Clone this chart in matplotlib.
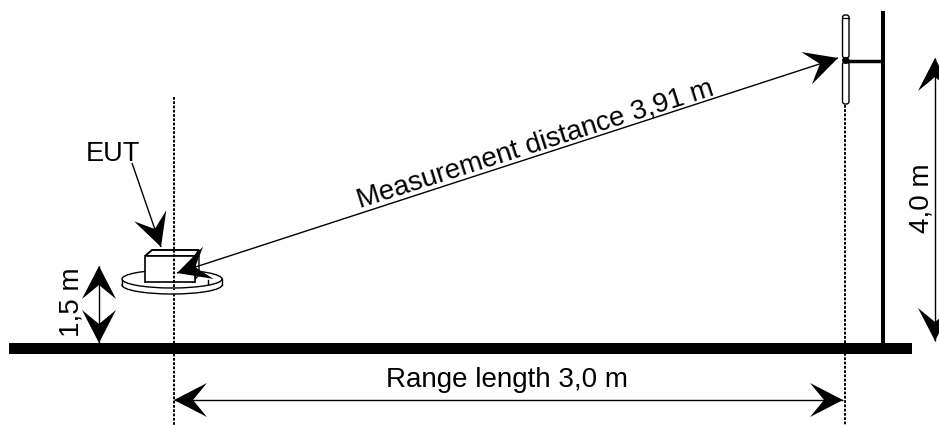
import matplotlib.pyplot as plt
import numpy as np
from matplotlib.patches import Ellipse, Polygon, Rectangle, FancyBboxPatch

plt.rcParams['font.family'] = ['Liberation Sans', 'DejaVu Sans']

W, H = 939, 425

# all positions in reference pixels
ground_x = [9, 912]
ground_y = 348.5
mast_x = 883
mast_y = [11, 344]
arm_x = [846, 881]
arm_y = 60.5
left_dot_x = 174
left_dot_y = [97, 425]
right_dot_x = 845
right_dot_y = [105, 425]

# arrows: start tip, end tip
range_arrow = [(174, 400), (843, 400)]
height_arrow = [(935, 58), (935, 341)]
small_arrow = [(99, 266), (99, 343)]
distance_arrow = [(838, 58), (177, 273)]
eut_arrow = [(132, 163), (161, 247)]

box_front = [(145, 256), (195, 256), (195, 282), (145, 282)]
box_top = [(145, 256), (152, 250), (199, 250), (195, 256)]
box_side = [(195, 256), (199, 250), (199, 275), (192, 282), (195, 282)]

# text anchors are on the baseline
texts = ["EUT", "Measurement distance 3,91 m", "Range length 3,0 m", "4,0 m", "1,5 m"]
text_x = [112.5, 537.5, 507, 928, 78]
text_y = [161, 151, 387, 198.5, 302]
text_rot = [0, 17.7, 0, 90, 90]
text_size = [19.5, 20, 20, 20, 20]

dots = (0, (1.4, 0.8))

fig = plt.figure(figsize=(W / 100, H / 100), dpi=100)
ax = fig.add_axes([0, 0, 1, 1])
ax.set_xlim(0, W)
ax.set_ylim(H, 0)
ax.axis('off')


def head(tip, tail, length=33, half=17, notch=19):
    tip = np.array(tip, dtype=float)
    d = np.array(tail, dtype=float) - tip
    d = d / np.hypot(*d)
    n = np.array([-d[1], d[0]])
    pts = [tip, tip + d * length + n * half, tip + d * notch, tip + d * length - n * half]
    ax.add_patch(Polygon(pts, closed=True, fc='black', ec='none', zorder=6))


def arrow(a, b, both=True):
    ax.plot([a[0], b[0]], [a[1], b[1]], color='black', lw=1.0, zorder=5, solid_capstyle='butt')
    head(b, a)
    if both:
        head(a, b)


# ground and mast
ax.add_patch(Rectangle((ground_x[0], ground_y - 5.5), ground_x[1] - ground_x[0], 11, fc='black', ec='none', zorder=3))
ax.plot([mast_x, mast_x], mast_y, color='black', lw=2.9, solid_capstyle='butt', zorder=3)
ax.plot(arm_x, [arm_y, arm_y], color='black', lw=2.5, solid_capstyle='butt', zorder=3)

# dotted lines
ax.plot([left_dot_x, left_dot_x], left_dot_y, color='black', lw=1.4, ls=dots, zorder=2)
ax.plot([right_dot_x, right_dot_x], right_dot_y, color='black', lw=1.4, ls=dots, zorder=2)

# antenna elements
for y0, y1 in [(15, 58), (62, 104)]:
    ax.add_patch(FancyBboxPatch((842.5, y0), 6.5, y1 - y0, boxstyle='round,pad=0,rounding_size=2.5',
                                fc='white', ec='black', lw=1.0, zorder=4))
ax.plot([842.5, 849], [18, 18], color='black', lw=0.9, zorder=4)
ax.add_patch(Ellipse((845.8, 60.5), 7.5, 7, fc='black', ec='none', zorder=4))

# turntable
ax.add_patch(Ellipse((172, 285), 100, 18, fc='white', ec='black', lw=1.0, zorder=3))
ax.add_patch(Rectangle((122, 279), 100, 6, fc='white', ec='none', zorder=3))
ax.plot([122, 122], [279, 285], color='black', lw=1.0, zorder=3)
ax.plot([222, 222], [279, 285], color='black', lw=1.0, zorder=3)
ax.add_patch(Ellipse((172, 279), 100, 18, fc='white', ec='black', lw=1.0, zorder=3))
ax.plot([208, 208], [280, 284], color='black', lw=1.0, zorder=3.5)

# box
ax.add_patch(Polygon(box_side, closed=True, fc='white', ec='black', lw=1.0, zorder=4))
ax.add_patch(Polygon(box_top, closed=True, fc='white', ec='black', lw=1.4, zorder=4))
ax.add_patch(Polygon(box_front, closed=True, fc='white', ec='black', lw=1.2, zorder=4))
ax.plot([left_dot_x, left_dot_x], [250, 290], color='black', lw=1.4, ls=dots, zorder=4.5)

arrow(*range_arrow)
arrow(*height_arrow)
arrow(*small_arrow)
arrow(*distance_arrow)
arrow(*eut_arrow, both=False)

for s, x, y, r, fs in zip(texts, text_x, text_y, text_rot, text_size):
    ax.text(x, y, s, rotation=r, rotation_mode='anchor', ha='center', va='baseline',
            fontsize=fs, color='black', zorder=7)

fig.savefig('out.png', dpi=100)
